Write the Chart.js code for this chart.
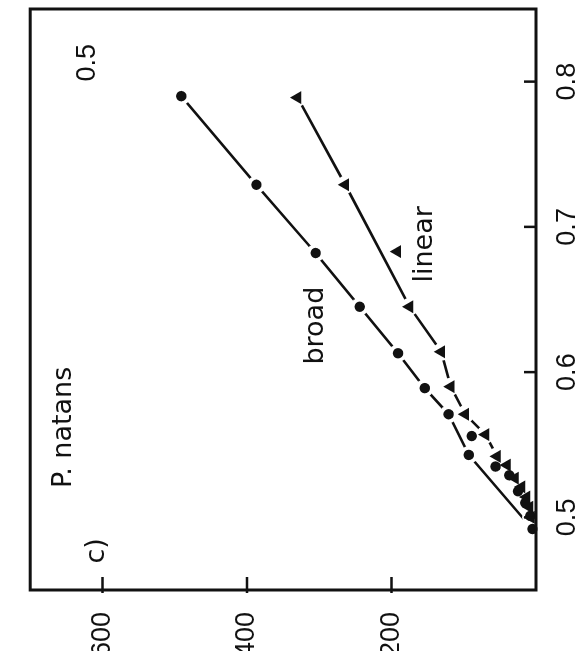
<!DOCTYPE html>
<html><head><meta charset="utf-8">
<script src="https://cdn.jsdelivr.net/npm/chart.js@4/dist/chart.umd.min.js"></script>
<style>
html,body{margin:0;padding:0;background:#fff;width:576px;height:651px;overflow:hidden}
#wrap{position:absolute;left:0;top:0;width:651px;height:576px;transform-origin:0 0;transform:translate(0,651px) rotate(-90deg)}
canvas{display:block}
</style></head><body>
<div id="wrap"><canvas id="c" width="651" height="576"></canvas></div>
<script>
// ---- data ----
const xTicks = [0.5, 0.6, 0.7, 0.8];
const yTicks = [200, 400, 600];
// "broad" series (circles) connected by the line
const broadX = [0.790, 0.729, 0.682, 0.645, 0.613, 0.589, 0.571, 0.543, 0.492];
const broadY = [491, 387, 305, 244, 191, 154, 121, 93, 5];
// additional circles near the origin (not on the line)
const broadExtraX = [0.556, 0.535, 0.529, 0.518, 0.510, 0.501];
const broadExtraY = [89, 56, 37, 25, 15, 8];
// "linear" series (triangles) connected by the line
const linearX = [0.789, 0.729, 0.645, 0.614, 0.590, 0.571, 0.557, 0.542, 0.536, 0.527, 0.521, 0.514, 0.507, 0.500];
const linearY = [330, 264, 175, 131, 118, 98, 70, 54, 40, 29, 20, 13, 9, 7];
// off-line triangle
const linearOffX = [0.683];
const linearOffY = [192];
// text annotations
const noteTexts = ['0.5', 'c)', 'P. natans', 'broad', 'linear'];
const noteX = [0.813, 0.477, 0.562, 0.632, 0.688];
const noteY = [621, 607, 653, 305, 153];

const zip = (xs, ys) => xs.map((x, i) => ({x, y: ys[i]}));
const INK = '#111';
const TICK_FAMILY = '"Liberation Sans", Arial, sans-serif';
const NOTE_FAMILY = '"DejaVu Sans", sans-serif';

const haloRadius = ctx => 9;

const frame = {
  id: 'frame',
  afterDraw(chart) {
    const ctx = chart.ctx, ca = chart.chartArea, xs = chart.scales.x, ys = chart.scales.y;
    ctx.save();
    ctx.strokeStyle = INK;
    ctx.lineWidth = 2.5;
    ctx.beginPath();
    xTicks.forEach(v => { const p = xs.getPixelForValue(v); ctx.moveTo(p, ca.bottom); ctx.lineTo(p, ca.bottom - 12); });
    yTicks.forEach(v => { const p = ys.getPixelForValue(v); ctx.moveTo(ca.left - 3, p); ctx.lineTo(ca.left + 13, p); });
    ctx.stroke();
    ctx.lineWidth = 3;
    ctx.strokeRect(ca.left, ca.top, ca.right - ca.left, ca.bottom - ca.top);
    ctx.fillStyle = INK;
    ctx.textAlign = 'center';
    ctx.textBaseline = 'middle';
    noteTexts.forEach((t, i) => {
      ctx.font = i === 0 ? '27px ' + TICK_FAMILY : '27px ' + NOTE_FAMILY;
      ctx.fillText(t, xs.getPixelForValue(noteX[i]), ys.getPixelForValue(noteY[i]));
    });
    ctx.restore();
  }
};

const tickFont = {family: TICK_FAMILY, size: 27};

new Chart(document.getElementById('c'), {
  type: 'scatter',
  data: {
    datasets: [
      {data: zip(broadX, broadY), showLine: true, borderColor: INK, borderWidth: 2.6, pointRadius: 0, order: 5},
      {data: zip(linearX, linearY), showLine: true, borderColor: INK, borderWidth: 2.6, pointRadius: 0, order: 5},
      {data: zip(broadX, broadY), pointStyle: 'circle', pointRadius: haloRadius, pointBackgroundColor: '#fff', pointBorderWidth: 0, order: 3},
      {data: zip(linearX, linearY), pointStyle: 'circle', pointRadius: haloRadius, pointBackgroundColor: '#fff', pointBorderWidth: 0, order: 3},
      {data: zip(broadX, broadY), pointStyle: 'circle', pointRadius: 5.2, pointBackgroundColor: INK, pointBorderColor: INK, pointBorderWidth: 0, order: 1},
      {data: zip(broadExtraX, broadExtraY), pointStyle: 'circle', pointRadius: 5.2, pointBackgroundColor: INK, pointBorderColor: INK, pointBorderWidth: 0, order: 1},
      {data: zip(linearX, linearY), pointStyle: 'triangle', pointRadius: 7.5, pointBackgroundColor: INK, pointBorderColor: INK, pointBorderWidth: 0, order: 1},
      {data: zip(linearOffX, linearOffY), pointStyle: 'triangle', pointRadius: 7.5, pointBackgroundColor: INK, pointBorderColor: INK, pointBorderWidth: 0, order: 1}
    ]
  },
  options: {
    responsive: false,
    animation: false,
    events: [],
    layout: {padding: {top: 10, right: 6, left: 0, bottom: 0}},
    plugins: {legend: {display: false}, tooltip: {enabled: false}},
    datasets: {scatter: {clip: false}},
    scales: {
      x: {
        type: 'linear', min: 0.45, max: 0.85,
        afterBuildTicks: s => { s.ticks = xTicks.map(v => ({value: v})); },
        afterFit: s => { s.height = 40; },
        grid: {display: false},
        border: {display: false},
        ticks: {font: tickFont, color: INK, padding: 7, maxRotation: 0, callback: v => v.toFixed(1)}
      },
      y: {
        type: 'linear', min: 0, max: 700,
        afterBuildTicks: s => { s.ticks = yTicks.map(v => ({value: v})); },
        afterFit: s => { s.width = 61; },
        grid: {display: false},
        border: {display: false},
        ticks: {font: tickFont, color: INK, padding: 14, callback: v => String(v)}
      }
    }
  },
  plugins: [frame]
});
</script>
</body></html>
